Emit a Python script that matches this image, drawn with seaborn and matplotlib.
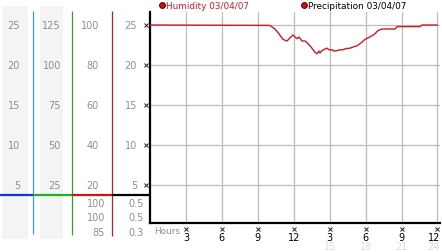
import matplotlib
matplotlib.use('Agg')
import matplotlib.pyplot as plt
import matplotlib.transforms as mtrans
from matplotlib.lines import Line2D
import numpy as np
import seaborn as sns

# ---------------- data ----------------
hours = [0, 10.0, 10.43, 10.77, 11.10, 11.44, 11.69, 11.94, 12.10, 12.27, 12.44,
         12.69, 12.94, 13.11, 13.36, 13.52, 13.77, 13.94, 14.11, 14.19, 14.36,
         14.61, 14.78, 14.94, 15.19, 15.36, 15.61, 15.86, 16.11, 16.36, 16.70,
         16.95, 17.28, 17.61, 17.95, 18.28, 18.53, 18.78, 19.03, 19.37, 20.45,
         20.62, 22.54, 22.71, 24.0]
humidity_pct = [100, 99.8, 98, 95.6, 92.8, 92, 93.6, 95, 94, 93.2, 94,
                92, 92, 91.2, 89.6, 88.4, 86.4, 85.6, 87, 86, 87.2,
                88, 88.4, 87.6, 87.6, 87, 87.2, 87.6, 87.6, 88.2, 88.4,
                89, 89.6, 91, 92.8, 93.8, 94.6, 95.6, 97.2, 98, 98,
                99.2, 99.2, 100, 100]

scale_a = [25, 20, 15, 10, 5]
scale_b = [125, 100, 75, 50, 25]
scale_c = [100, 80, 60, 40, 20]
scale_d = [25, 20, 15, 10, 5]
table_c = ['100', '100', '85']
table_d = ['0.5', '0.5', '0.3']

x_ticks = [3, 6, 9, 12, 15, 18, 21, 24]
x_labels = ['3', '6', '9', '12', '3', '6', '9', '12']
x_labels2 = ['', '', '', '', '15', '18', '21', '24']

legend_items = ['Humidity 03/04/07', 'Precipitation 03/04/07']

# ---------------- style ----------------
sns.set_theme(style='white')
plt.rcParams['font.family'] = ['DejaVu Sans']

RED = '#cc1a28'
GRAY_TXT = '#8e8e8e'
GRID = '#bdbdbd'

W, H = 442, 253
fig = plt.figure(figsize=(W / 100, H / 100), dpi=100)
fig.patch.set_facecolor('white')


def px_ax(l, t, r, b, **kw):
    return fig.add_axes([l / W, 1 - b / H, (r - l) / W, (b - t) / H], **kw)


# pixel -> data (8 px per unit, 0 at pixel row 226)
def pyv(py):
    return (226 - py) / 8.0


# ---------------- left scale panel ----------------
lax = px_ax(0, 0, 150, 253)
lax.set_xlim(0, 150)
lax.set_ylim(pyv(253), pyv(0))
lax.axis('off')

for (x0, x1) in [(2, 28), (40, 63)]:
    lax.fill_between([x0, x1], pyv(240), pyv(7), color='#f4f4f4', lw=0, zorder=0)

for x, c, yb in [(33, '#3a9ccf', 235), (72, '#2ea02e', 236), (111.5, '#b52222', 237)]:
    lax.plot([x, x], [pyv(12), pyv(yb)], color=c, lw=0.9, solid_capstyle='butt')

for (x0, x1, c) in [(0, 33, '#1238d0'), (33, 72, '#22b022'), (72, 111.5, '#d41414'), (111.5, 150, 'black')]:
    lax.plot([x0, x1], [pyv(196), pyv(196)], color=c, lw=1.6, solid_capstyle='butt')

fs = 7
for a, b, c, d in zip(scale_a, scale_b, scale_c, scale_d):
    lax.text(20, d, str(a), ha='right', va='center', fontsize=fs, color=GRAY_TXT)
    lax.text(61, d, str(b), ha='right', va='center', fontsize=fs, color=GRAY_TXT)
    lax.text(99, d, str(c), ha='right', va='center', fontsize=fs, color=GRAY_TXT)
    lax.text(137, d, str(d), ha='right', va='center', fontsize=fs, color=GRAY_TXT)

for i, (c, d) in enumerate(zip(table_c, table_d)):
    yy = pyv(204 + i * 14.5)
    lax.text(105, yy, c, ha='right', va='center', fontsize=fs, color=GRAY_TXT)
    lax.text(144, yy, d, ha='right', va='center', fontsize=fs, color=GRAY_TXT)

# ---------------- main plot ----------------
ax = px_ax(150, 13, 440, 224)
ax.set_facecolor('none')
ax.set_xlim(0, 24.21)
ax.set_ylim(pyv(224), pyv(13))
ax.set_xticks(x_ticks)
ax.set_yticks(scale_d)
ax.tick_params(length=0, labelbottom=False, labelleft=False)
ax.grid(True, color=GRID, lw=0.9)
for s in ['top', 'right']:
    ax.spines[s].set_visible(False)
for s in ['left', 'bottom']:
    ax.spines[s].set_color('black')
    ax.spines[s].set_linewidth(1.6)

sns.lineplot(x=hours, y=np.array(humidity_pct) / 4.0, ax=ax, color=RED,
             lw=1.0, legend=False, zorder=3)
ax.set_xlabel('')
ax.set_ylabel('')

# tick markers
ty = mtrans.blended_transform_factory(ax.transAxes, ax.transData)
ax.plot([-4 / 290] * len(scale_d), scale_d, ls='none', marker='x', ms=2.6,
        mew=0.7, color='#222222', transform=ty, clip_on=False)
tx = mtrans.blended_transform_factory(ax.transData, ax.transAxes)
ax.plot(x_ticks, [-6 / 211] * len(x_ticks), ls='none', marker='x', ms=2.6,
        mew=0.7, color='#222222', transform=tx, clip_on=False)

last = len(x_ticks) - 1
for i, (x, l1, l2) in enumerate(zip(x_ticks, x_labels, x_labels2)):
    if i == last:
        xx, ha, tr = 1.0, 'right', ax.transAxes
    else:
        xx, ha, tr = x, 'center', tx
    ax.text(xx, -14 / 211, l1, ha=ha, va='center', fontsize=fs,
            color='black', transform=tr)
    if l2:
        ax.text(xx, -23 / 211, l2, ha=ha, va='center', fontsize=fs,
                color='#dcdcdc', transform=tr)

ax.text(4 / 290, -8 / 211, 'Hours', ha='left', va='center', fontsize=6.4,
        color=GRAY_TXT, transform=ax.transAxes)

# ---------------- legend ----------------
for (cx, tc), lab in zip([(162, RED), (304, 'black')], legend_items):
    fig.add_artist(Line2D([cx / W], [1 - 6 / H], marker='o', ms=4.2,
                          mfc='#cc1010', mec='#5a0000', mew=0.7,
                          transform=fig.transFigure))
    fig.text((cx + 4.5) / W, 1 - 6.5 / H, lab, ha='left', va='center',
             fontsize=6.4, color=tc)

fig.savefig('out.png', dpi=100, facecolor='white')
